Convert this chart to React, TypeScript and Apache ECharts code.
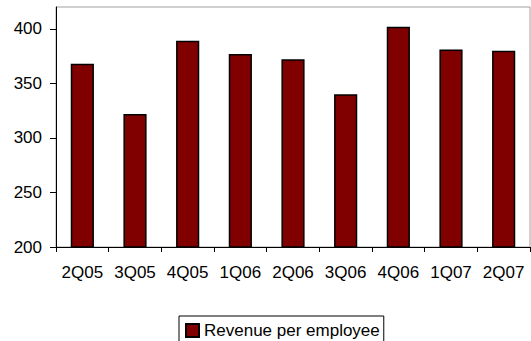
import React, { useEffect, useRef } from "react";
import * as echarts from "echarts";

const categories = ["2Q05", "3Q05", "4Q05", "1Q06", "2Q06", "3Q06", "4Q06", "1Q07", "2Q07"];
const revenuePerEmployee = [368, 322, 389, 377, 372, 340, 402, 381, 380];
const yTicks = [200, 250, 300, 350, 400];

export default function App() {
  const ref = useRef<HTMLDivElement>(null);
  useEffect(() => {
    document.body.style.margin = "0";
    if (!ref.current) return;
    const chart = echarts.init(ref.current, null, { renderer: "svg" });
    chart.setOption({
      animation: false,
      textStyle: { fontFamily: "Liberation Sans, Arial, sans-serif" },
      grid: {
        left: 56,
        right: 1,
        top: 7,
        bottom: 94,
        show: true,
        borderColor: "#a0a0a0",
        borderWidth: 1,
      },
      legend: {
        left: 179,
        top: 316,
        data: ["Revenue per employee"],
        itemWidth: 13,
        itemHeight: 13,
        itemGap: 4,
        padding: [6, 4, 3, 6],
        borderColor: "#000",
        borderWidth: 1,
        textStyle: { fontSize: 17, color: "#000" },
        icon: "rect",
      },
      xAxis: {
        type: "category",
        data: categories,
        axisLine: { lineStyle: { color: "#000", width: 1 } },
        axisTick: { show: true, length: 5, lineStyle: { color: "#000" } },
        axisLabel: { color: "#000", fontSize: 17, margin: 17, interval: 0 },
      },
      yAxis: {
        type: "value",
        min: 200,
        max: 420,
        interval: 50,
        splitLine: { show: false },
        axisLine: { show: true, lineStyle: { color: "#000", width: 1 } },
        axisTick: { show: true, length: 6, lineStyle: { color: "#000" }, customValues: yTicks },
        axisLabel: { color: "#000", fontSize: 17, margin: 14, customValues: yTicks },
      },
      series: [
        {
          name: "Revenue per employee",
          type: "bar",
          data: revenuePerEmployee,
          barWidth: "44%",
          itemStyle: { color: "#800000", borderColor: "#000", borderWidth: 1.5 },
        },
      ],
    });
    return () => chart.dispose();
  }, []);
  return <div ref={ref} style={{ width: 531, height: 341 }} />;
}
